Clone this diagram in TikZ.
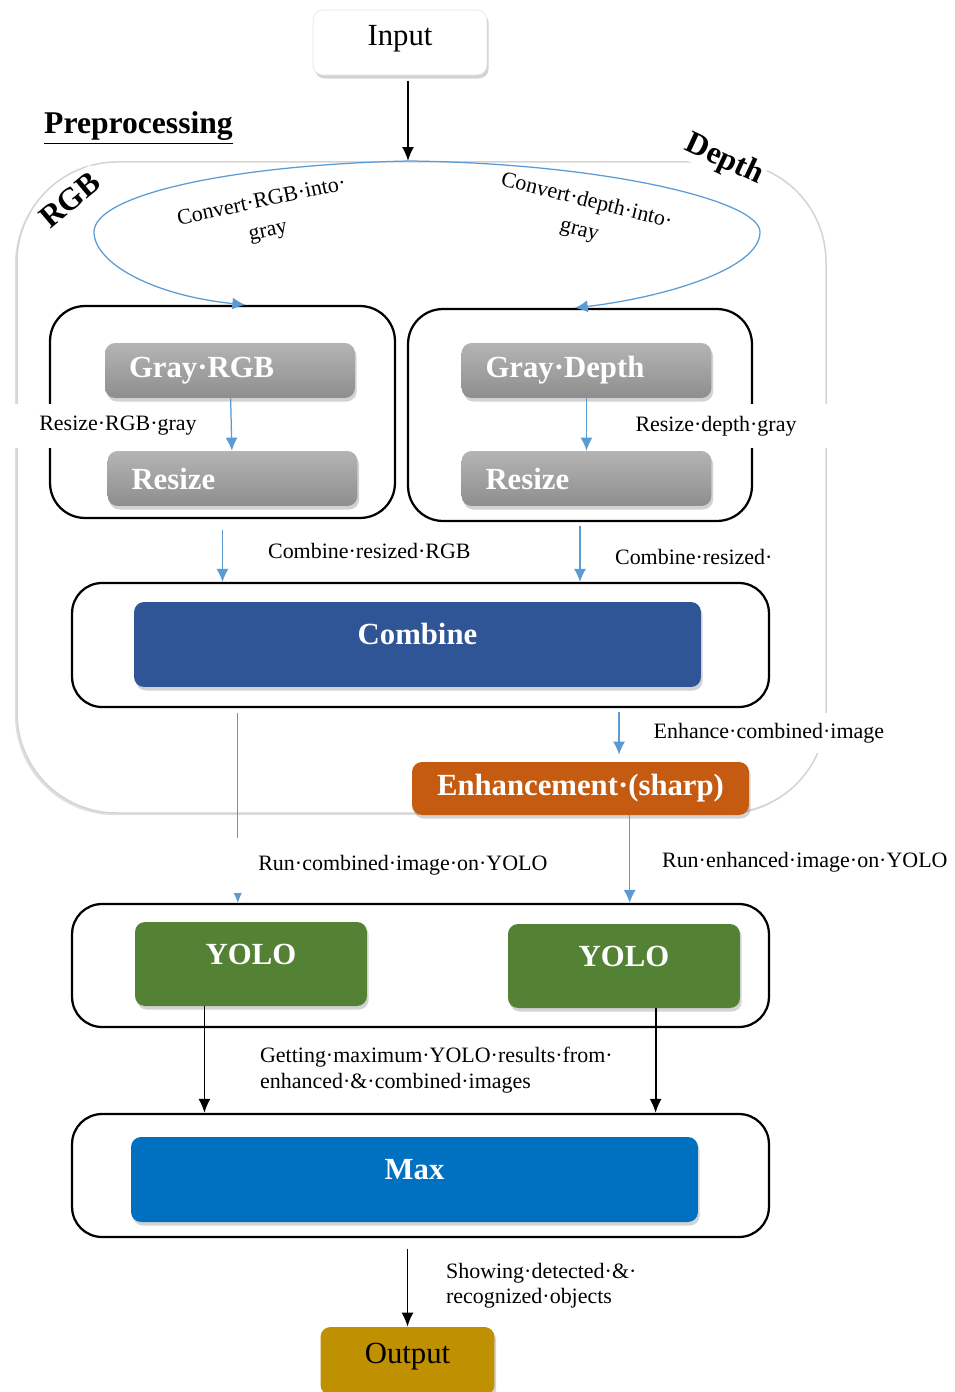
\documentclass[tikz,border=0pt]{standalone}
\usepackage{fontspec}
\setmainfont{Liberation Serif}
\usepackage{xcolor}
\usetikzlibrary{arrows.meta}
\usetikzlibrary{shadows}
\definecolor{arrowblue}{HTML}{5B9BD5}
\definecolor{combineblue}{HTML}{2F5597}
\definecolor{enhanceorange}{HTML}{C55A11}
\definecolor{yologreen}{HTML}{548235}
\definecolor{maxblue}{HTML}{0070C0}
\definecolor{outputgold}{HTML}{BF9000}
\definecolor{graytop}{HTML}{B4B4B4}
\definecolor{graybottom}{HTML}{8E8E8E}
\definecolor{regionline}{HTML}{D4D4D4}

\begin{document}
\begin{tikzpicture}[x=0.02cm, y=-0.02cm]
				\tikzstyle{labeltext}=[font=\fontsize{12.5}{14.5}\selectfont, inner sep=1pt]
				\tikzstyle{titletext}=[font=\fontsize{18}{20}\selectfont\bfseries]
				\tikzstyle{bluearrow}=[-{Latex[width=2.4mm,length=2.6mm]}, line width=0.25mm, arrowblue]
				\tikzstyle{blackarrow}=[-{Latex[width=2.4mm,length=2.8mm]}, line width=0.35mm, black]
				\tikzstyle{outerbox}=[draw, line width=0.45mm, rounded corners=0.6cm]
				\tikzstyle{subbox}=[draw, line width=0.45mm, rounded corners=0.7cm]
				\tikzstyle{softshadow}=[drop shadow={opacity=0.35, shadow xshift=1pt, shadow yshift=-2pt}]
				\tikzstyle{colorbox}=[softshadow, rounded corners=0.2cm, text=white, font=\fontsize{17.5}{20}\selectfont\bfseries, text height=12pt, text depth=12pt]
				\tikzstyle{graybox}=[softshadow, rounded corners=0.2cm, top color=graytop, bottom color=graybottom, draw=none, text=white, font=\fontsize{17.5}{20}\selectfont\bfseries, text width=4.04cm, inner xsep=13.6pt, minimum height=1.1cm, align=left]
				\tikzstyle{endbox}=[softshadow, rounded corners=0.2cm, font=\fontsize{17.5}{20}\selectfont, minimum width=3.48cm, text height=12pt, text depth=9pt]
				\useasboundingbox (0,0) rectangle (955,1392);
				\clip (0,0) rectangle (955,1392);
				%%% PREPROCESSING REGION %%%
				\draw[regionline, line width=0.3mm, fill=white, rounded corners=2cm,
				drop shadow={opacity=0.25, shadow xshift=-1.2pt, shadow yshift=-1.2pt}] (17,162) rectangle (826,813);
				%region titles
				\node[titletext, anchor=west] (preproc) at (38,128) {\underline{Preprocessing}};
				\node[titletext, fill=white, rotate=40, inner sep=2pt] (rgbtitle) at (70,200) {RGB};
				\node[titletext, fill=white, rotate=-25, inner sep=1pt] (depthtitle) at (724,160) {Depth};
				%%% INPUT %%%
				\node[endbox, fill=white, draw=black!10, minimum height=1.3cm] (input) at (400,42.5) {Input};
				\coordinate (top) at (408,161);
				\draw[blackarrow, shorten <=3pt] (input.south -| top) -- (top);
				%%% SUB BOXES %%%
				\node[subbox, minimum width=6.9cm, minimum height=4.24cm] (rgbbox) at (222.5,412) {};
				\node[subbox, minimum width=6.88cm, minimum height=4.24cm] (depthbox) at (580,415) {};
				%convert arcs
				\draw[bluearrow] (top) .. controls (230,165) and (94,195) .. (94,232)
				.. controls (94,262) and (150,295) .. ([xshift=13pt]rgbbox.north);
				\draw[bluearrow] (top) .. controls (600,163) and (760,200) .. (760,232)
				.. controls (760,270) and (660,298) .. ([xshift=-3pt]depthbox.north);
				\node[labeltext, font=\fontsize{12.5}{17}\selectfont, inner sep=0pt, rotate=12, align=center] (convrgb) at (265,217) {Convert·RGB·into·\\gray};
				\node[labeltext, font=\fontsize{12.5}{17}\selectfont, inner sep=0pt, rotate=-14, align=center] (convdepth) at (583,216) {Convert·depth·into·\\gray};
				%gray boxes
				\node[graybox] (grayrgb) at (230,370.5) {Gray·RGB};
				\node[graybox] (resizergb) at (232.5,478.5) {Resize};
				\node[graybox] (graydepth) at (586.5,370.5) {Gray·Depth};
				\node[graybox] (resizedepth) at (586.5,478.5) {Resize};
				\draw[bluearrow] (grayrgb) -- (resizergb);
				\draw[bluearrow] (graydepth) -- (resizedepth);
				\node[labeltext, fill=white, text width=4.1cm, align=center, minimum height=0.88cm] (resizergblabel) at (118,426) {Resize·RGB·gray};
				\node[labeltext, fill=white, text width=4.4cm, align=center, minimum height=0.88cm] (resizedepthlabel) at (716,426) {Resize·depth·gray};
				%%% COMBINE %%%
				\node[outerbox, minimum width=13.94cm, minimum height=2.48cm] (combinebox) at (420.5,645) {};
				\node[colorbox, fill=combineblue, minimum width=11.34cm, minimum height=1.7cm] (combine) at (417.5,644.5) {Combine};
				\draw[bluearrow, shorten <=6pt] (rgbbox.south) -- (rgbbox.south |- combinebox.north);
				\draw[bluearrow, shorten <=2pt] (depthbox.south) -- (depthbox.south |- combinebox.north);
				\node[labeltext, anchor=west] (combrgblabel) at (266,551) {Combine·resized·RGB};
				\node[labeltext, anchor=west] (combdepthlabel) at (613,557) {Combine·resized·};
				%%% ENHANCEMENT %%%
				\node[colorbox, fill=enhanceorange, minimum width=6.74cm, minimum height=1.06cm, text height=, text depth=] (enhance) at (580.5,788.5) {Enhancement·(sharp)};
				\coordinate (enhin) at ([xshift=113pt]combinebox.south);
				\draw[bluearrow, shorten <=2pt, shorten >=4pt] (enhin) -- (enhin |- enhance.north);
				\node[labeltext, fill=white, anchor=west, inner xsep=3pt, minimum height=0.8cm] (enhlabel) at (648,733) {Enhance·combined·image};
				%%% YOLO %%%
				\node[outerbox, minimum width=13.94cm, minimum height=2.46cm] (yolobox) at (420.5,965.5) {};
				\node[colorbox, fill=yologreen, minimum width=4.64cm, minimum height=1.68cm] (yololeft) at (251,964) {YOLO};
				\node[colorbox, fill=yologreen, minimum width=4.64cm, minimum height=1.68cm] (yoloright) at (624,966) {YOLO};
				\coordinate (runleft) at ([xshift=-104pt]combinebox.south);
				\draw[bluearrow, shorten <=3pt] (runleft) -- (runleft |- yolobox.north);
				\coordinate (runright) at ([xshift=28pt]enhance.south);
				\draw[bluearrow] (runright) -- (runright |- yolobox.north);
				\node[labeltext, fill=white, anchor=west, inner xsep=0.6cm, minimum height=1.1cm] (runcomblabel) at (228,865) {Run·combined·image·on·YOLO};
				\node[labeltext, anchor=west] (runenhlabel) at (660,862) {Run·enhanced·image·on·YOLO};
				%%% MAX %%%
				\node[outerbox, minimum width=13.94cm, minimum height=2.46cm] (maxbox) at (420.5,1175.5) {};
				\node[colorbox, fill=maxblue, minimum width=11.34cm, minimum height=1.7cm] (max) at (414.5,1179.5) {Max};
				\coordinate (maxleft) at ([xshift=-26.5pt]yololeft.south);
				\coordinate (maxright) at ([xshift=18pt]yoloright.south);
				\draw[blackarrow] (maxleft) -- (maxleft |- maxbox.north);
				\draw[blackarrow] (maxright) -- (maxright |- maxbox.north);
				\node[labeltext, anchor=north west, align=left] (maxlabel) at (258,1045) {Getting·maximum·YOLO·results·from·\\enhanced·\&·combined·images};
				%%% OUTPUT %%%
				\node[endbox, fill=outputgold, minimum height=1.36cm] (output) at (407.5,1361) {Output};
				\draw[blackarrow, shorten <=6pt] (maxbox.south -| output) -- (output.north);
				\node[labeltext, anchor=north west, align=left] (outlabel) at (444,1261) {Showing·detected·\&·\\recognized·objects};
\end{tikzpicture}
\end{document}
